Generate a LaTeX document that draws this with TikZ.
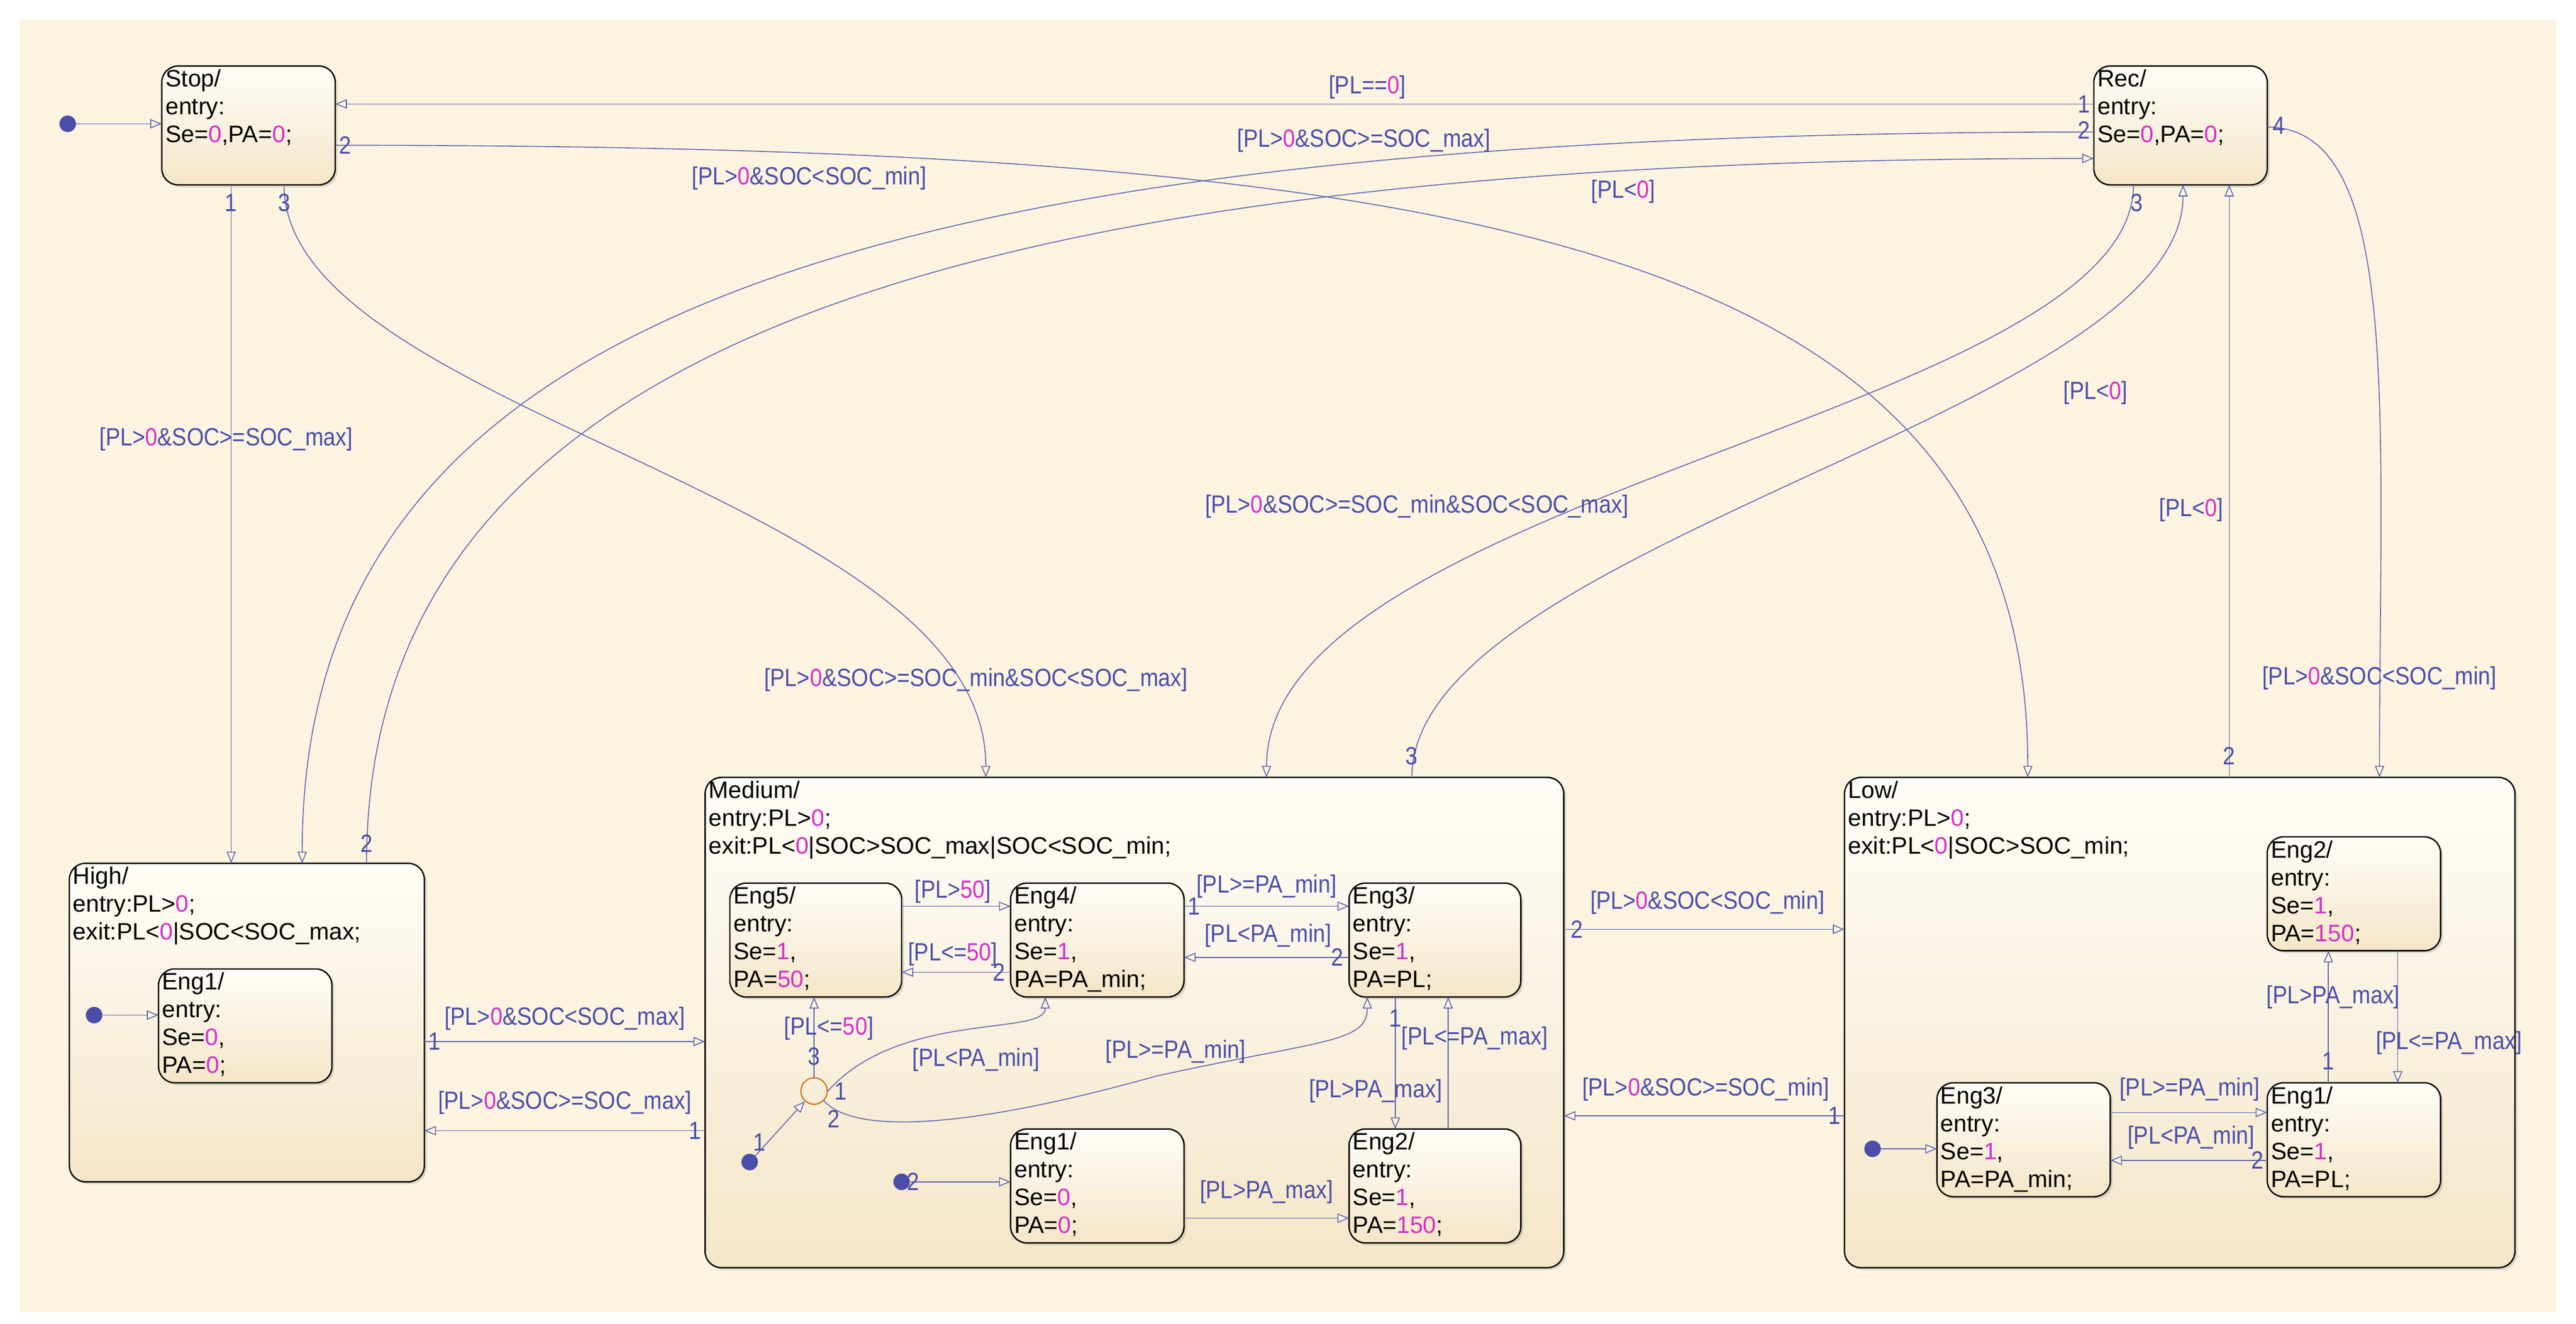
\documentclass[tikz,border=0pt]{standalone}
\usepackage{fontspec}
\setmainfont{Liberation Sans}
\newfontfamily\narrowf{Liberation Sans}[FakeStretch=0.88]
\usetikzlibrary{arrows.meta,shadows,calc}
\definecolor{cream}{HTML}{FDF3E1}
\definecolor{lc}{HTML}{6266AE}
\definecolor{tc}{HTML}{4A4EA8}
\definecolor{mag}{HTML}{D62FC8}
\definecolor{btop}{HTML}{FFFDF8}
\definecolor{bbot}{HTML}{F4E6C8}
\newcommand\mg[1]{\textcolor{mag}{#1}}
\newcommand\bx{\fontsize{20.5}{24}\selectfont}
\newcommand\lx{\fontsize{21.5}{24}\selectfont\narrowf}
\newcommand\mkstate[6]{%
  \node[stbox, minimum width={(#4-#2)*0.05cm}, minimum height={(#5-#3)*0.05cm}, anchor=north west] (#1) at (#2,#3) {};
  \node[anchor=north west, align=left, inner sep=3pt, font=\bx] at (#1.north west) {#6};}
\newcommand\lab[2]{\node[font=\lx, text=tc, inner sep=1pt] at (#1) {#2};}
\tikzset{
  stbox/.style={draw=black, line width=1.2pt, outer sep=0pt, rounded corners=14pt, top color=btop, bottom color=bbot, drop shadow={shadow xshift=2pt, shadow yshift=-2pt, opacity=0.25}},
  tr/.style={draw=lc, line width=0.8pt, -{Triangle[length=10pt,width=8pt,fill=cream]}},
  dot/.style={circle, fill=tc, inner sep=0pt, minimum size=0.5cm},
}
\begin{document}
\begin{tikzpicture}[x=0.05cm,y=-0.05cm]
\useasboundingbox (0,0) rectangle (1560,802);
\fill[white] (0,0) rectangle (1560,802);
\fill[cream] (12,12) rectangle (1548,795);

% top states
\mkstate{Stop}{98}{40}{203}{112}{Stop/\\entry:\\Se=\mg{0},PA=\mg{0};}
\mkstate{Rec}{1268}{40}{1373}{112}{Rec/\\entry:\\Se=\mg{0},PA=\mg{0};}

% High
\mkstate{High}{42}{523}{257}{716}{High/\\entry:PL>\mg{0};\\exit:PL<\mg{0}|SOC<SOC\_max;}
\mkstate{HE1}{96}{587}{201}{656}{Eng1/\\entry:\\Se=\mg{0},\\PA=\mg{0};}

% Medium
\mkstate{Med}{427}{471}{947}{768}{Medium/\\entry:PL>\mg{0};\\exit:PL<\mg{0}|SOC>SOC\_max|SOC<SOC\_min;}
\mkstate{ME5}{442}{535}{546}{604}{Eng5/\\entry:\\Se=\mg{1},\\PA=\mg{50};}
\mkstate{ME4}{612}{535}{717}{604}{Eng4/\\entry:\\Se=\mg{1},\\PA=PA\_min;}
\mkstate{ME3}{817}{535}{921}{604}{Eng3/\\entry:\\Se=\mg{1},\\PA=PL;}
\mkstate{ME1}{612}{684}{717}{753}{Eng1/\\entry:\\Se=\mg{0},\\PA=\mg{0};}
\mkstate{ME2}{817}{684}{921}{753}{Eng2/\\entry:\\Se=\mg{1},\\PA=\mg{150};}

% Low
\mkstate{Low}{1117}{471}{1523}{768}{Low/\\entry:PL>\mg{0};\\exit:PL<\mg{0}|SOC>SOC\_min;}
\mkstate{LE2}{1373}{507}{1478}{576}{Eng2/\\entry:\\Se=\mg{1},\\PA=\mg{150};}
\mkstate{LE3}{1173}{656}{1278}{725}{Eng3/\\entry:\\Se=\mg{1},\\PA=PA\_min;}
\mkstate{LE1}{1373}{656}{1478}{725}{Eng1/\\entry:\\Se=\mg{1},\\PA=PL;}

% default transitions
\node[dot] (d0) at (41,75) {};
\draw[tr] (d0) -- (Stop.west |- 0,75);
\node[dot] (d1) at (57,615) {};
\draw[tr] (d1) -- (HE1.west |- 0,615);
\node[dot] (d2) at (454,704) {};
\node[circle, draw={rgb,255:red,200;green,110;blue,20}, line width=1pt, minimum size=0.8cm, inner sep=0pt] (J) at (493,661) {};
\draw[tr] (d2) -- (J);
\node[dot] (d3) at (546,716) {};
\draw[tr] (d3) -- (ME1.west |- 0,716);
\node[dot] (d4) at (1134,696) {};
\draw[tr] (d4) -- (LE3.west |- 0,696);

% top-level transitions
\draw[tr] (Rec.west |- 0,63) -- (Stop.east |- 0,63);
\draw[tr] (Rec.west |- 0,80) .. controls (500,80) and (183,200) .. (High.north -| 183,0);
\draw[tr] (High.north -| 222,0) .. controls (222,200) and (600,96) .. (Rec.west |- 0,96);
\draw[tr] (Stop.east |- 0,88) .. controls (900,88) and (1228,150) .. (Low.north -| 1228,0);
\draw[tr] (Stop.south -| 140,0) -- (High.north -| 140,0);
\draw[tr] (Stop.south -| 172,0) .. controls (172,250) and (597,300) .. (Med.north -| 597,0);
\draw[tr] (Rec.south -| 1292,0) .. controls (1292,250) and (767,300) .. (Med.north -| 767,0);
\draw[tr] (Med.north -| 855,0) .. controls (855,330) and (1322,250) .. (Rec.south -| 1322,0);
\draw[tr] (Low.north -| 1350,0) -- (Rec.south -| 1350,0);
\draw[tr] (Rec.east |- 0,77) .. controls (1455,77) and (1441,250) .. (Low.north -| 1441,0);
\draw[tr] (High.east |- 0,631) -- (Med.west |- 0,631);
\draw[tr] (Med.west |- 0,685) -- (High.east |- 0,685);
\draw[tr] (Med.east |- 0,563) -- (Low.west |- 0,563);
\draw[tr] (Low.west |- 0,676) -- (Med.east |- 0,676);

% Medium inner
\draw[tr] (ME5.east |- 0,549) -- (ME4.west |- 0,549);
\draw[tr] (ME4.west |- 0,589) -- (ME5.east |- 0,589);
\draw[tr] (ME4.east |- 0,549) -- (ME3.west |- 0,549);
\draw[tr] (ME3.west |- 0,580) -- (ME4.east |- 0,580);
\draw[tr] (J.north) -- (ME5.south -| 493,0);
\draw[tr] (J.east) .. controls (545,612) and (633,628) .. (ME4.south -| 633,0);
\draw[tr] (J.south east) .. controls (520,690) and (600,680) .. (700,652) .. controls (800,630) and (828,632) .. (ME3.south -| 828,0);
\draw[tr] (ME3.south -| 845,0) -- (ME2.north -| 845,0);
\draw[tr] (ME2.north -| 877,0) -- (ME3.south -| 877,0);
\draw[tr] (ME1.east |- 0,738) -- (ME2.west |- 0,738);

% Low inner
\draw[tr] (LE3.east |- 0,674) -- (LE1.west |- 0,674);
\draw[tr] (LE1.west |- 0,703) -- (LE3.east |- 0,703);
\draw[tr] (LE1.north -| 1410,0) -- (LE2.south -| 1410,0);
\draw[tr] (LE2.south -| 1452,0) -- (LE1.north -| 1452,0);

% guard labels
\lab{828,53}{[PL==\mg{0}]}
\lab{826,85}{[PL>\mg{0}\&SOC>=SOC\_max]}
\lab{983,116}{[PL<\mg{0}]}
\lab{490,108}{[PL>\mg{0}\&SOC<SOC\_min]}
\lab{137,266}{[PL>\mg{0}\&SOC>=SOC\_max]}
\lab{591,412}{[PL>\mg{0}\&SOC>=SOC\_min\&SOC<SOC\_max]}
\lab{858,307}{[PL>\mg{0}\&SOC>=SOC\_min\&SOC<SOC\_max]}
\lab{1269,238}{[PL<\mg{0}]}
\lab{1327,309}{[PL<\mg{0}]}
\lab{1441,411}{[PL>\mg{0}\&SOC<SOC\_min]}
\lab{342,617}{[PL>\mg{0}\&SOC<SOC\_max]}
\lab{342,668}{[PL>\mg{0}\&SOC>=SOC\_max]}
\lab{1034,547}{[PL>\mg{0}\&SOC<SOC\_min]}
\lab{1033,660}{[PL>\mg{0}\&SOC>=SOC\_min]}
\lab{577,540}{[PL>\mg{50}]}
\lab{577,578}{[PL<=\mg{50}]}
\lab{767,537}{[PL>=PA\_min]}
\lab{768,567}{[PL<PA\_min]}
\lab{502,623}{[PL<=\mg{50}]}
\lab{591,642}{[PL<PA\_min]}
\lab{712,637}{[PL>=PA\_min]}
\lab{833,661}{[PL>PA\_max]}
\lab{893,629}{[PL<=PA\_max]}
\lab{767,722}{[PL>PA\_max]}
\lab{1326,660}{[PL>=PA\_min]}
\lab{1327,689}{[PL<PA\_min]}
\lab{1413,604}{[PL>PA\_max]}
\lab{1483,632}{[PL<=PA\_max]}

% execution order numbers
\lab{140,123}{1} \lab{172,123}{3} \lab{209,88}{2}
\lab{1262,63}{1} \lab{1262,79}{2} \lab{1294,123}{3} \lab{1380,76}{4}
\lab{222,511}{2} \lab{263,631}{1} \lab{421,685}{1}
\lab{855,458}{3} \lab{955,563}{2} \lab{1350,458}{2} \lab{1111,676}{1}
\lab{723,549}{1} \lab{605,589}{2} \lab{810,580}{2}
\lab{493,640}{3} \lab{509,661}{1} \lab{505,678}{2} \lab{460,692}{1}
\lab{553,716}{2} \lab{845,617}{1} \lab{1367,703}{2} \lab{1410,643}{1}
\end{tikzpicture}
\end{document}
